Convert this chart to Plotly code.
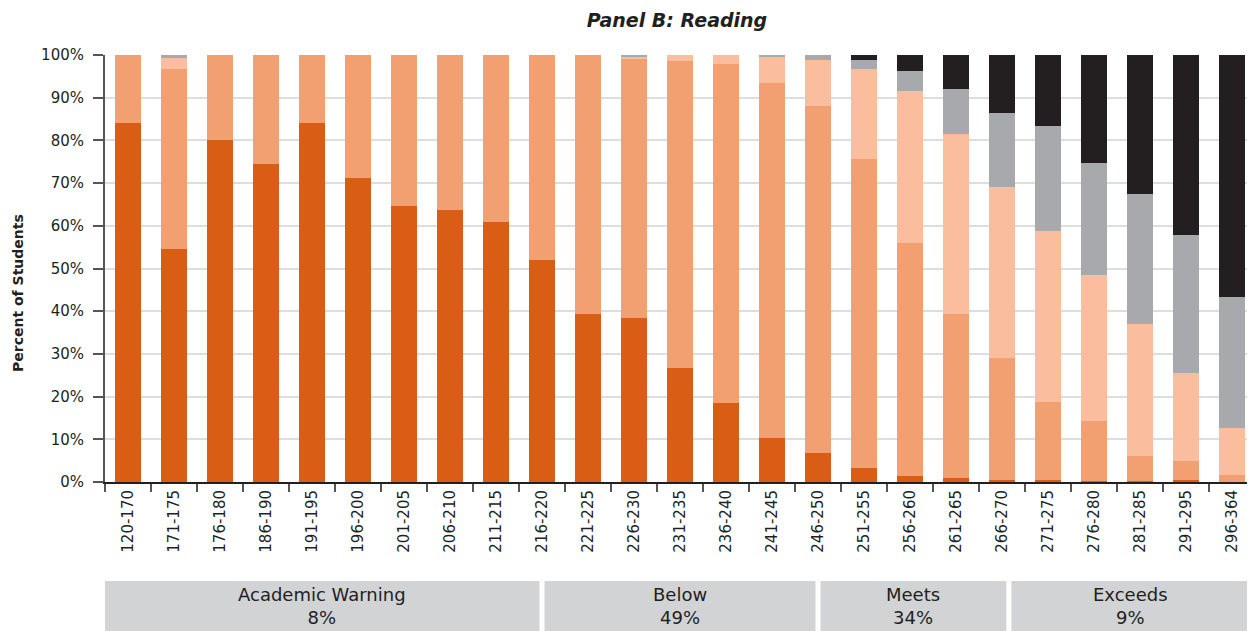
import plotly.graph_objects as go

categories = ["120-170", "171-175", "176-180", "186-190", "191-195", "196-200", "201-205",
              "206-210", "211-215", "216-220", "221-225", "226-230", "231-235", "236-240",
              "241-245", "246-250", "251-255", "256-260", "261-265", "266-270", "271-275",
              "276-280", "281-285", "291-295", "296-364"]

academic_warning = [84.0, 54.5, 80.1, 74.5, 84.1, 71.3, 64.7, 63.8, 60.8, 52.0, 39.4, 38.3,
                    26.6, 18.6, 10.4, 6.8, 3.3, 1.4, 0.9, 0.5, 0.5, 0.3, 0.3, 0.5, 0.1]
below = [16.0, 42.2, 19.9, 25.5, 15.9, 28.7, 35.3, 36.2, 39.2, 48.0, 60.6, 60.9,
         72.0, 79.3, 83.0, 81.3, 72.3, 54.6, 38.4, 28.5, 18.2, 14.0, 5.8, 4.4, 1.5]
meets = [0.0, 2.7, 0.0, 0.0, 0.0, 0.0, 0.0, 0.0, 0.0, 0.0, 0.0, 0.3,
         1.4, 2.1, 6.2, 10.7, 21.1, 35.6, 42.2, 40.1, 40.1, 34.2, 30.9, 20.6, 11.0]
exceeds_gray = [0.0, 0.6, 0.0, 0.0, 0.0, 0.0, 0.0, 0.0, 0.0, 0.0, 0.0, 0.5,
                0.0, 0.0, 0.4, 1.2, 2.1, 4.7, 10.5, 17.3, 24.6, 26.2, 30.4, 32.3, 30.7]
top_black = [0.0, 0.0, 0.0, 0.0, 0.0, 0.0, 0.0, 0.0, 0.0, 0.0, 0.0, 0.0,
             0.0, 0.0, 0.0, 0.0, 1.2, 3.7, 8.0, 13.6, 16.6, 25.3, 32.6, 42.2, 56.7]

series_names = ["Academic Warning", "Below", "Meets", "Exceeds", "Exceeds (top)"]
series_values = [academic_warning, below, meets, exceeds_gray, top_black]
series_colors = ["#d95d14", "#f2a072", "#fabe9f", "#a7a9ac", "#231f20"]

group_labels = ["Academic Warning", "Below", "Meets", "Exceeds"]
group_percents = ["8%", "49%", "34%", "9%"]
group_bounds = [-0.5, 9.0, 15.0, 19.15, 24.4]  # in category-index units

FONT = "DejaVu Sans"
TEXT = "#231f20"

# page has an 8px body margin; the figure is sized/offset to compensate
W, H = 1247, 623
ML, MT = 97, 47
PLOT_BOTTOM = 474  # figure pixel of 0%
PLOT_H = PLOT_BOTTOM - MT
PLOT_W = W - ML

fig = go.Figure()
for name, vals, col in zip(series_names, series_values, series_colors):
    fig.add_trace(go.Bar(x=categories, y=vals, name=name, marker=dict(color=col, line=dict(width=0)),
                         showlegend=False))

n = len(categories)
def idx_to_paper(v):
    return (v + 0.5) / n

def ypix_to_paper(py):  # py in figure pixels
    return (PLOT_BOTTOM - py) / PLOT_H

gap = 0.055
for i, (lab, pct) in enumerate(zip(group_labels, group_percents)):
    x0 = group_bounds[i] + (gap if i > 0 else 0)
    x1 = group_bounds[i + 1] - (gap if i < len(group_labels) - 1 else 0)
    fig.add_shape(type="rect", xref="paper", yref="paper",
                  x0=idx_to_paper(x0), x1=idx_to_paper(x1), y0=ypix_to_paper(573), y1=ypix_to_paper(640),
                  fillcolor="#d1d3d4", line=dict(width=0), layer="above")
    fig.add_annotation(xref="paper", yref="paper", x=(idx_to_paper(x0) + idx_to_paper(x1)) / 2,
                       y=ypix_to_paper(598), text=f"{lab}<br>{pct}", showarrow=False,
                       font=dict(family=FONT, size=18, color=TEXT), align="center",
                       xanchor="center", yanchor="middle")

fig.add_annotation(xref="paper", yref="paper", x=(10 - ML) / PLOT_W, y=ypix_to_paper(285),
                   text="<b>Percent of Students</b>",
                   textangle=-90, showarrow=False, font=dict(family=FONT, size=14, color=TEXT),
                   xanchor="center", yanchor="middle")

fig.update_layout(
    width=W, height=H,
    barmode="stack", bargap=0.435,
    plot_bgcolor="white", paper_bgcolor="white",
    margin=dict(l=ML, r=0, t=MT, b=H - PLOT_BOTTOM),
    title=dict(text="<i>Panel B: Reading</i>", x=(669 - 0) / W, xanchor="center",
               y=1 - 12 / H, yanchor="middle",
               font=dict(family=FONT, size=19, color=TEXT, weight=600)),
    font=dict(family=FONT, color=TEXT),
)
fig.update_xaxes(type="category", categoryorder="array", categoryarray=categories,
                 range=[-0.5, n - 0.5], tickangle=-90, tickson="boundaries",
                 ticks="outside", ticklen=8, tickwidth=2, tickcolor="#555555",
                 showline=True, linecolor="#231f20", linewidth=2,
                 tickfont=dict(family=FONT, size=15, color=TEXT), showgrid=False)
fig.update_yaxes(range=[0, 100], dtick=10, ticksuffix="%", showgrid=True, gridcolor="#dedede", gridwidth=2,
                 showline=True, linecolor="#555555", linewidth=2, ticks="outside", ticklen=10,
                 tickwidth=2, tickcolor="#555555", zeroline=False, ticklabelstandoff=6,
                 tickfont=dict(family=FONT, size=15, color=TEXT))

fig.write_html("out.html")
